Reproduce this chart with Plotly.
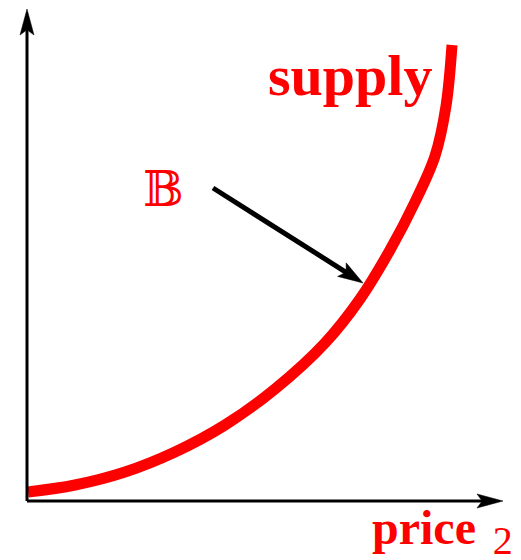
import plotly.graph_objects as go

# Supply curve (price on x, quantity on y)
price = [1, 48, 98, 148, 198, 248, 298, 333, 363, 388, 408, 419, 425]
supply = [9, 16, 29, 49, 76, 112, 158, 202, 251, 299, 345, 395, 456]

# Axis extents and annotation anchors (same data units)
x_axis_end = 476
y_axis_end = 492
pointer_tail = (186, 313)
pointer_tip = (336, 218)

label_supply = "<b>supply</b>"
label_price = "<b>price</b><sub>&nbsp;&nbsp;<span style='font-size:40px'>2</span></sub>"
label_set = "\U0001D539"

RED = "#ff0000"


def stealth(tail, tip, length, half_w, notch):
    dx, dy = tip[0] - tail[0], tip[1] - tail[1]
    n = (dx * dx + dy * dy) ** 0.5
    ux, uy = dx / n, dy / n
    px_, py_ = -uy, ux
    bx, by = tip[0] - ux * length, tip[1] - uy * length
    nx, ny = tip[0] - ux * length * notch, tip[1] - uy * length * notch
    pts = [tip, (bx + px_ * half_w, by + py_ * half_w), (nx, ny),
           (bx - px_ * half_w, by - py_ * half_w)]
    return "M " + " L ".join(f"{a:.2f},{b:.2f}" for a, b in pts) + " Z", (nx, ny)


fig = go.Figure()

shapes = []
for tail, tip, w, hl, hw in [((0, 0), (0, y_axis_end), 3, 26, 7),
                             ((0, 0), (x_axis_end, 0), 3, 26, 7),
                             (pointer_tail, pointer_tip, 5, 25, 8)]:
    path, base = stealth(tail, tip, hl, hw, 0.8)
    shapes.append(dict(type="line", xref="x", yref="y", x0=tail[0], y0=tail[1],
                       x1=base[0], y1=base[1], line=dict(color="black", width=w)))
    shapes.append(dict(type="path", xref="x", yref="y", path=path,
                       fillcolor="black", line=dict(color="black", width=0.5)))

fig.add_trace(go.Scatter(
    x=price, y=supply, mode="lines",
    line=dict(color=RED, width=11, shape="spline", smoothing=1.0),
    hoverinfo="skip", showlegend=False))

fig.update_layout(
    width=521, height=560,
    margin=dict(l=0, r=0, t=0, b=0),
    paper_bgcolor="white", plot_bgcolor="white",
    xaxis=dict(range=[-19, 502], visible=False, fixedrange=True),
    yaxis=dict(range=[-67, 493], visible=False, fixedrange=True),
    shapes=shapes,
    showlegend=False,
    annotations=[
        dict(x=323, y=426, xref="x", yref="y", text=label_supply, showarrow=False,
             font=dict(family="Liberation Serif, Times New Roman, serif", size=58, color=RED),
             xanchor="center", yanchor="middle"),
        dict(x=415, y=-31, xref="x", yref="y", text=label_price, showarrow=False,
             font=dict(family="Liberation Serif, Times New Roman, serif", size=48, color=RED),
             xanchor="center", yanchor="middle"),
        dict(x=136, y=312, xref="x", yref="y", text=label_set, showarrow=False,
             font=dict(family="DejaVu Serif, DejaVu Sans, serif", size=48, color=RED),
             xanchor="center", yanchor="middle"),
    ],
)

fig.write_html("out.html")
